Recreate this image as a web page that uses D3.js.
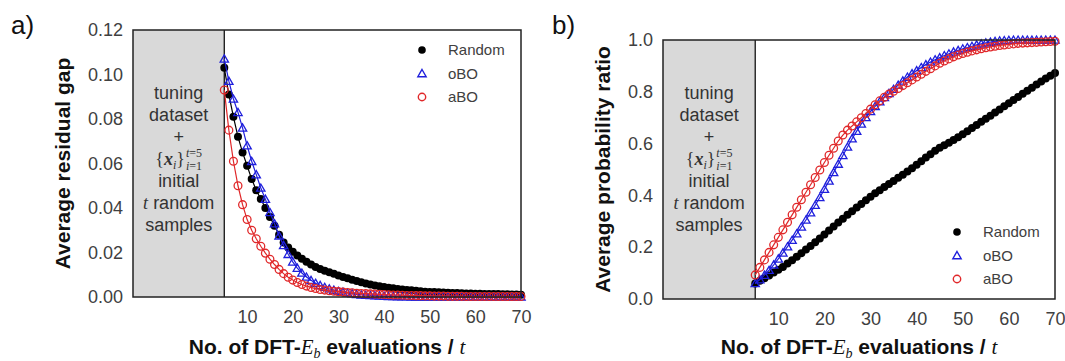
<!DOCTYPE html>
<html><head><meta charset="utf-8">
<script src="https://cdn.jsdelivr.net/npm/d3@7"></script>
<style>body{margin:0;background:#fff;}</style>
</head><body>
<svg id="chart" width="1065" height="361"></svg>
<script>
// ---------- data ----------
const evaluations = [5,6,7,8,9,10,11,12,13,14,15,16,17,18,19,20,21,22,23,24,25,26,27,28,29,30,31,32,33,34,35,36,37,38,39,40,41,42,43,44,45,46,47,48,49,50,51,52,53,54,55,56,57,58,59,60,61,62,63,64,65,66,67,68,69,70];
const xTickValues = [10,20,30,40,50,60,70];
const gapTickValues = [0,0.02,0.04,0.06,0.08,0.10,0.12];
const ratioTickValues = [0,0.2,0.4,0.6,0.8,1.0];
const seriesNames = ["Random","oBO","aBO"];

// panel a: average residual gap
const randomGap = [0.103,0.091,0.081,0.072,0.065,0.059,0.053,0.048,0.044,0.040,0.036,0.032,0.028,0.0245,0.0222,0.0203,0.0187,0.0172,0.0158,0.0146,0.0135,0.0126,0.0118,0.0111,0.0104,0.0097,0.0090,0.0084,0.0078,0.0072,0.0066,0.0061,0.0056,0.0052,0.0048,0.0045,0.0042,0.0039,0.0036,0.0034,0.0032,0.0030,0.0028,0.0026,0.0024,0.0023,0.0022,0.0021,0.0020,0.0019,0.0018,0.0018,0.0017,0.0016,0.0016,0.0015,0.0015,0.0014,0.0014,0.0013,0.0013,0.0012,0.0012,0.0011,0.0011,0.0010];
const oBOGap = [0.107,0.097,0.089,0.083,0.076,0.068,0.061,0.055,0.049,0.044,0.038,0.033,0.0275,0.0232,0.0192,0.0158,0.0130,0.0108,0.0090,0.0075,0.0062,0.0052,0.0044,0.0037,0.0031,0.0026,0.0022,0.0018,0.0015,0.0012,0.0010,0.0008,0.0007,0.0006,0.0005,0.0004,0.0003,0.0003,0.0002,0.0002,0.0002,0.0001,0.0001,0.0001,0.0001,0.0001,0.0001,0.0001,0.0001,0.0001,0.0001,0.0001,0.0001,0.0001,0,0,0,0,0,0,0,0,0,0,0,0];
const aBOGap = [0.093,0.075,0.061,0.050,0.0415,0.0348,0.0300,0.0262,0.0228,0.0197,0.0170,0.0146,0.0124,0.0105,0.0089,0.0076,0.0065,0.0056,0.0049,0.0043,0.0038,0.0034,0.0031,0.0028,0.0026,0.0024,0.0022,0.0020,0.0019,0.0017,0.0016,0.0015,0.0014,0.0013,0.0012,0.0011,0.0010,0.0009,0.0009,0.0008,0.0007,0.0007,0.0006,0.0006,0.0005,0.0005,0.0004,0.0004,0.0004,0.0003,0.0003,0.0003,0.0003,0.0002,0.0002,0.0002,0.0002,0.0002,0.0002,0.0002,0.0002,0.0002,0.0002,0.0002,0.0002,0.0002];

// panel b: average probability ratio
const randomRatio = [0.060,0.070,0.080,0.091,0.102,0.113,0.124,0.137,0.150,0.163,0.177,0.191,0.205,0.219,0.234,0.249,0.264,0.280,0.295,0.310,0.325,0.339,0.353,0.367,0.381,0.395,0.408,0.420,0.432,0.444,0.456,0.468,0.480,0.492,0.505,0.518,0.532,0.546,0.559,0.572,0.584,0.594,0.603,0.614,0.625,0.636,0.648,0.660,0.672,0.684,0.696,0.708,0.720,0.732,0.744,0.756,0.768,0.780,0.792,0.804,0.816,0.828,0.840,0.851,0.862,0.873];
const oBORatio = [0.060,0.075,0.092,0.111,0.132,0.155,0.178,0.202,0.227,0.252,0.278,0.305,0.333,0.362,0.392,0.424,0.456,0.489,0.521,0.554,0.587,0.619,0.648,0.676,0.701,0.724,0.744,0.762,0.778,0.794,0.810,0.826,0.842,0.857,0.870,0.882,0.894,0.905,0.915,0.924,0.932,0.940,0.947,0.954,0.960,0.966,0.971,0.976,0.981,0.985,0.989,0.992,0.995,0.997,0.998,0.999,1,1,1,1,1,1,1,1,1,1];
const aBORatio = [0.093,0.122,0.151,0.180,0.209,0.238,0.267,0.296,0.325,0.354,0.383,0.412,0.441,0.469,0.498,0.527,0.555,0.582,0.610,0.633,0.652,0.668,0.684,0.700,0.716,0.733,0.750,0.765,0.779,0.791,0.802,0.813,0.824,0.835,0.846,0.857,0.868,0.879,0.889,0.900,0.910,0.919,0.927,0.935,0.942,0.948,0.953,0.958,0.962,0.966,0.970,0.973,0.976,0.979,0.981,0.983,0.985,0.987,0.988,0.989,0.990,0.991,0.992,0.993,0.994,0.995];

// ---------- styles ----------
const SANS = "'Liberation Sans', Arial, sans-serif";
const SERIF = "'Liberation Serif', 'Times New Roman', serif";
const colors = {Random:"#000000", oBO:"#1f1fdc", aBO:"#e0282a"};

const svg = d3.select("#chart");

function mathLabel(g, cx, baseline) {
  const grp = g.append("g");
  const t = grp.append("text").attr("y", baseline).attr("font-family", SERIF)
    .attr("font-size", 18).attr("fill", "#333");
  t.append("tspan").text("{");
  t.append("tspan").attr("font-weight","bold").attr("font-style","italic").text("x");
  t.append("tspan").attr("font-style","italic").attr("font-size",12).attr("dy",4).text("i");
  t.append("tspan").attr("dy",-4).text("}");
  const w = t.node().getComputedTextLength();
  const sup = grp.append("text").attr("y", baseline - 8).attr("font-family", SERIF)
    .attr("font-size", 12).attr("fill", "#333");
  sup.append("tspan").attr("font-style","italic").text("t");
  sup.append("tspan").text("=5");
  const sub = grp.append("text").attr("y", baseline + 5).attr("font-family", SERIF)
    .attr("font-size", 12).attr("fill", "#333");
  sub.append("tspan").attr("font-style","italic").text("i");
  sub.append("tspan").text("=1");
  const ws = Math.max(sup.node().getComputedTextLength(), sub.node().getComputedTextLength());
  const total = w + 1 + ws;
  const x0 = cx - total / 2;
  t.attr("x", x0);
  sup.attr("x", x0 + w + 1);
  sub.attr("x", x0 + w + 1);
}

function drawPanel(cfg) {
  const g = svg.append("g");
  const x = d3.scaleLinear().domain([-15, 70]).range([cfg.left, cfg.right]);
  const y = d3.scaleLinear().domain(cfg.yDomain).range([cfg.bottom, cfg.top]);

  // gray tuning region
  g.append("rect").attr("x", x(-15)).attr("y", cfg.top)
    .attr("width", x(5) - x(-15)).attr("height", cfg.bottom - cfg.top)
    .attr("fill", "#d9d9d9");
  g.append("line").attr("x1", x(5)).attr("x2", x(5)).attr("y1", cfg.top).attr("y2", cfg.bottom)
    .attr("stroke", "#222").attr("stroke-width", 1.4);

  // box text
  const cx = (x(-15) + x(5)) / 2;
  const lines = [["tuning",0],["dataset",1],["+",2],["initial",4]];
  const b0 = 99, dl = 22;
  lines.forEach(([s,i]) => {
    g.append("text").attr("x", cx).attr("y", b0 + i*dl).attr("text-anchor","middle")
      .attr("font-family", SANS).attr("font-size", 18).attr("fill","#333").text(s);
  });
  mathLabel(g, cx, b0 + 3*dl);
  const tr = g.append("text").attr("x", cx).attr("y", b0 + 5*dl).attr("text-anchor","middle")
    .attr("font-family", SANS).attr("font-size", 18).attr("fill","#333");
  tr.append("tspan").attr("font-family", SERIF).attr("font-style","italic").text("t");
  tr.append("tspan").text(" random");
  g.append("text").attr("x", cx).attr("y", b0 + 6*dl).attr("text-anchor","middle")
    .attr("font-family", SANS).attr("font-size", 18).attr("fill","#333").text("samples");

  // axes (labels only)
  const xa = g.append("g").attr("transform", `translate(0,${cfg.bottom})`)
    .call(d3.axisBottom(x).tickValues(xTickValues).tickSize(0).tickPadding(0).tickFormat(d3.format("d")));
  xa.select(".domain").remove();
  xa.selectAll("text").attr("font-family", SANS).attr("font-size", 18).attr("fill","#404040")
    .attr("dy", null).attr("y", 26);
  const ya = g.append("g").attr("transform", `translate(${cfg.left},0)`)
    .call(d3.axisLeft(y).tickValues(cfg.yTicks).tickSize(0).tickPadding(10).tickFormat(d3.format(cfg.fmt)));
  ya.select(".domain").remove();
  ya.selectAll("text").attr("font-family", SANS).attr("font-size", 18).attr("fill","#404040");

  // series
  const sg = g.append("g");
  const line = d3.line().x((d,i) => x(evaluations[i])).y(d => y(d));
  const tri = d3.symbol().type(d3.symbolTriangle).size(30);
  seriesNames.forEach(name => {
    const vals = cfg.series[name];
    const c = colors[name];
    sg.append("path").datum(vals).attr("d", line).attr("fill","none")
      .attr("stroke", c).attr("stroke-width", 1.2);
    if (name === "Random") {
      sg.selectAll(null).data(vals).join("circle")
        .attr("cx", (d,i) => x(evaluations[i])).attr("cy", d => y(d)).attr("r", 4).attr("fill", c);
    } else if (name === "oBO") {
      sg.selectAll(null).data(vals).join("path")
        .attr("d", tri).attr("transform", (d,i) => `translate(${x(evaluations[i])},${y(d)+0.8})`)
        .attr("fill","none").attr("stroke", c).attr("stroke-width", 1.3);
    } else {
      sg.selectAll(null).data(vals).join("circle")
        .attr("cx", (d,i) => x(evaluations[i])).attr("cy", d => y(d)).attr("r", 3.9)
        .attr("fill","none").attr("stroke", c).attr("stroke-width", 1.3);
    }
  });

  // frame
  g.append("rect").attr("x", cfg.left).attr("y", cfg.top)
    .attr("width", cfg.right - cfg.left).attr("height", cfg.bottom - cfg.top)
    .attr("fill","none").attr("stroke","#222").attr("stroke-width", 1.5);

  // legend
  seriesNames.forEach((name, i) => {
    const ly = cfg.legY + i * 23.5;
    const c = colors[name];
    if (name === "Random") {
      g.append("circle").attr("cx", cfg.legX).attr("cy", ly).attr("r", 3.8).attr("fill", c);
    } else if (name === "oBO") {
      g.append("path").attr("d", tri).attr("transform", `translate(${cfg.legX},${ly+0.8})`)
        .attr("fill","none").attr("stroke", c).attr("stroke-width", 1.4);
    } else {
      g.append("circle").attr("cx", cfg.legX).attr("cy", ly).attr("r", 3.7)
        .attr("fill","none").attr("stroke", c).attr("stroke-width", 1.4);
    }
    g.append("text").attr("x", cfg.legX + 26).attr("y", ly).attr("dy", "0.35em")
      .attr("font-family", SANS).attr("font-size", 15).attr("fill","#404040").text(name);
  });

  // axis titles
  g.append("text").attr("transform", `translate(${cfg.yTitleX},${(cfg.top+cfg.bottom)/2}) rotate(-90)`)
    .attr("text-anchor","middle").attr("font-family", SANS).attr("font-weight","bold")
    .attr("font-size", 21).attr("fill","#111").text(cfg.yTitle);
  const xt = g.append("text").attr("x", (cfg.left + cfg.right)/2).attr("y", 354)
    .attr("text-anchor","middle").attr("font-family", SANS).attr("font-weight","bold")
    .attr("font-size", 21).attr("fill","#111");
  xt.append("tspan").text("No. of DFT-");
  xt.append("tspan").attr("font-family", SERIF).attr("font-style","italic").attr("font-weight","normal").text("E");
  xt.append("tspan").attr("font-family", SERIF).attr("font-style","italic").attr("font-weight","normal")
    .attr("font-size", 14).attr("dy", 4).text("b");
  xt.append("tspan").attr("dy", -4).text(" evaluations / ");
  xt.append("tspan").attr("font-family", SERIF).attr("font-style","italic").attr("font-weight","normal").text("t");

  // panel label
  svg.append("text").attr("x", cfg.labelX).attr("y", 34).attr("font-family", SANS)
    .attr("font-size", 26).attr("fill","#111").text(cfg.label);
}

drawPanel({
  id: "a", label: "a)", labelX: 11,
  left: 133, right: 521, top: 30, bottom: 297,
  yDomain: [0, 0.12], yTicks: gapTickValues, fmt: ".2f",
  yTitle: "Average residual gap", yTitleX: 70,
  series: {Random: randomGap, oBO: oBOGap, aBO: aBOGap},
  legX: 422, legY: 50
});
drawPanel({
  id: "b", label: "b)", labelX: 552,
  left: 663, right: 1055, top: 40, bottom: 299,
  yDomain: [0, 1.0], yTicks: ratioTickValues, fmt: ".1f",
  yTitle: "Average probability ratio", yTitleX: 610,
  series: {Random: randomRatio, oBO: oBORatio, aBO: aBORatio},
  legX: 957, legY: 232
});
</script>
</body></html>
